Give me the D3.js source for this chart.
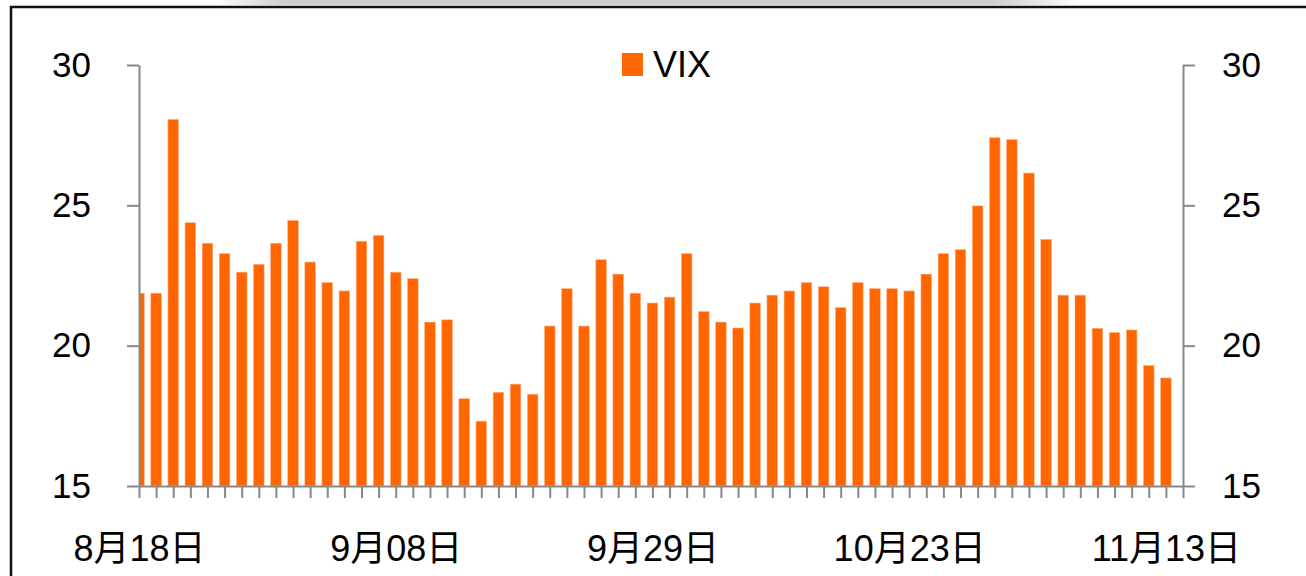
<!DOCTYPE html>
<html>
<head>
<meta charset="utf-8">
<script src="https://cdn.jsdelivr.net/npm/d3@7"></script>
<style>
  html, body { margin: 0; padding: 0; background: #fff; }
  svg { display: block; }
  .axis text { font-family: "Liberation Sans", "Noto Sans CJK SC", sans-serif; font-size: 35px; fill: #000; }
  .axis.xaxis text { font-size: 36px; }
  .axis path, .axis line { stroke: #888; stroke-width: 2px; }
</style>
</head>
<body>
<svg id="chart" width="1306" height="576"></svg>
<script>
// ---- data ----
const seriesName = "VIX";
const vix = [
  21.87, 21.87, 28.06, 24.38, 23.65, 23.28, 22.62, 22.90, 23.65, 24.46,
  22.98, 22.25, 21.95, 23.72, 23.93, 22.62, 22.39, 20.84, 20.92, 18.11,
  17.31, 18.34, 18.63, 18.27, 20.70, 22.03, 20.70, 23.06, 22.55, 21.87,
  21.52, 21.73, 23.28, 21.22, 20.84, 20.63, 21.52, 21.80, 21.95, 22.25,
  22.10, 21.36, 22.25, 22.03, 22.03, 21.95, 22.55, 23.28, 23.42, 24.98,
  27.41, 27.34, 26.15, 23.79, 21.80, 21.80, 20.62, 20.47, 20.56, 19.29,
  18.85
];
const categoryCount = 62;           // axis slots (last slot empty)
const xTickLabels = ["8月18日", "9月08日", "9月29日", "10月23日", "11月13日"];
const xLabelEvery = 15;
const yTicks = [15, 20, 25, 30];
const yDomain = [15, 30];

// ---- layout ----
const svg = d3.select("#chart");
const mLeft = 139, mRight = 1183, mTop = 65, mBottom = 486;

// frame & top shadow
const defs = svg.append("defs");
const g1 = defs.append("linearGradient").attr("id", "shadowH");
g1.append("stop").attr("offset", "0%").attr("stop-color", "#fff");
g1.append("stop").attr("offset", "8%").attr("stop-color", "#cfcfcf");
g1.append("stop").attr("offset", "90%").attr("stop-color", "#cfcfcf");
g1.append("stop").attr("offset", "100%").attr("stop-color", "#fff");
svg.append("rect").attr("x", 215).attr("y", 0).attr("width", 865).attr("height", 5).attr("fill", "url(#shadowH)");
svg.append("path").attr("d", "M11,576 L11,7 L1306,7").attr("fill", "none").attr("stroke", "#111").attr("stroke-width", 2.5);

const x = d3.scalePoint().domain(d3.range(categoryCount)).range([mLeft, mRight]);
const y = d3.scaleLinear().domain(yDomain).range([mBottom, mTop]);
const step = x.step();
const barW = step * 0.62;

defs.append("clipPath").attr("id", "plotClip")
  .append("rect").attr("x", mLeft).attr("y", 0).attr("width", mRight - mLeft).attr("height", mBottom);

svg.append("g").attr("clip-path", "url(#plotClip)")
  .selectAll("rect").data(vix).join("rect")
  .attr("x", (d, i) => x(i) - barW / 2)
  .attr("width", barW)
  .attr("y", d => y(d))
  .attr("height", d => y(yDomain[0]) - y(d))
  .attr("fill", "#FF6600")
  .attr("stroke", "#FFB38A")
  .attr("stroke-width", 0.6);

// axes
svg.append("g").attr("class", "axis").attr("transform", `translate(${mLeft},0)`)
  .call(d3.axisLeft(y).tickValues(yTicks).tickSize(12).tickSizeOuter(0).tickPadding(36).tickFormat(d3.format("d")));
svg.append("g").attr("class", "axis").attr("transform", `translate(${mRight},0)`)
  .call(d3.axisRight(y).tickValues(yTicks).tickSize(12).tickSizeOuter(0).tickPadding(27).tickFormat(d3.format("d")));
svg.append("g").attr("class", "axis xaxis").attr("transform", `translate(0,${mBottom})`)
  .call(d3.axisBottom(x).tickSize(12).tickSizeOuter(0).tickPadding(37)
    .tickFormat(i => (i % xLabelEvery === 0 && xTickLabels[i / xLabelEvery]) ? xTickLabels[i / xLabelEvery] : ""));
svg.selectAll(".axis .domain").attr("stroke", "#888").attr("stroke-width", 2);

// legend
const lg = svg.append("g").attr("transform", "translate(622,53)");
lg.append("rect").attr("width", 21).attr("height", 23).attr("fill", "#FF6600");
lg.append("text").attr("x", 31).attr("y", 23.5).text(seriesName)
  .style("font-family", "\"Liberation Sans\", sans-serif").style("font-size", "36px").attr("fill", "#000");
</script>
</body>
</html>
